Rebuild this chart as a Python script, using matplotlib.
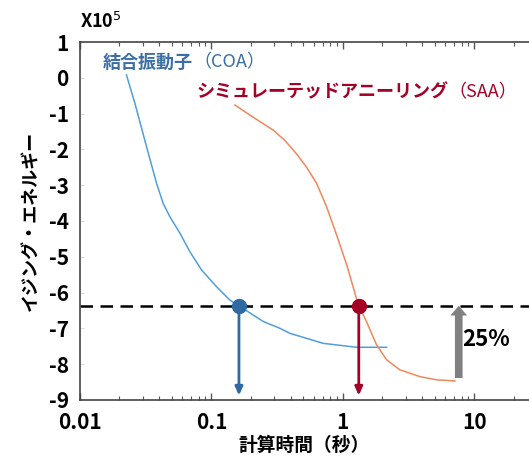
import matplotlib
matplotlib.use("Agg")
import matplotlib.pyplot as plt
import numpy as np

plt.rcParams['font.family'] = ['Noto Sans CJK JP', 'DejaVu Sans']

# Data (energy in units of 1e5, time in seconds)
coa_time = [0.0226, 0.0262, 0.0321, 0.0383, 0.0430, 0.0483, 0.0576, 0.0686, 0.0842,
            0.1096, 0.138, 0.162, 0.208, 0.248, 0.332, 0.395, 0.708, 1.27, 2.15]
coa_energy = [0.08, -0.71, -1.92, -2.95, -3.51, -3.88, -4.34, -4.86, -5.37,
              -5.84, -6.21, -6.37, -6.63, -6.81, -7.00, -7.14, -7.42, -7.53, -7.53]
saa_time = [0.151, 0.196, 0.295, 0.362, 0.445, 0.530, 0.631, 0.751, 0.895,
            1.07, 1.31, 1.51, 1.80, 2.15, 2.71, 3.85, 5.16, 7.11]
saa_energy = [-0.76, -1.04, -1.46, -1.75, -2.13, -2.50, -2.95, -3.60, -4.39,
              -5.23, -6.35, -6.81, -7.46, -7.88, -8.16, -8.35, -8.44, -8.47]
target_energy = -6.37
coa_cross = 0.162
saa_cross = 1.32
gap_x = 7.6
gap_low = -8.39
xticks = [0.01, 0.1, 1, 10]
xtick_labels = ['0.01', '0.1', '1', '10']
yticks = [1, 0, -1, -2, -3, -4, -5, -6, -7, -8, -9]

fig = plt.figure(figsize=(5.29, 4.57), dpi=100)
ax = fig.add_axes([0.151, 0.125, 0.849, 0.783])
ax.set_xscale('log')
ax.set_xlim(0.01, 26)
ax.set_ylim(-9, 1)

c_blue_line = '#4f9fdc'
c_blue_dark = '#2f6aa3'
c_red_dark = '#a50026'
c_orange = '#f0875a'

ax.plot(coa_time, coa_energy, color=c_blue_line, lw=1.1, zorder=3)
ax.plot(saa_time, saa_energy, color=c_orange, lw=1.1, zorder=3)
ax.axhline(target_energy, color='black', lw=1.8, ls=(0, (5, 3)), zorder=2)

for xc, col in [(coa_cross, c_blue_dark), (saa_cross, c_red_dark)]:
    ax.annotate('', xy=(xc, -8.88), xytext=(xc, target_energy),
                arrowprops=dict(arrowstyle='-|>,head_length=0.5,head_width=0.22', color=col, lw=2.0,
                                shrinkA=0, shrinkB=0), zorder=4)
    ax.plot([xc], [target_energy], 'o', color=col, ms=10, zorder=5)

ax.annotate('', xy=(gap_x, target_energy), xytext=(gap_x, gap_low),
            arrowprops=dict(arrowstyle='simple,head_length=0.7,head_width=1.2,tail_width=0.55',
                            color='#808080', lw=0, shrinkA=0, shrinkB=0), zorder=4)
ax.text(gap_x * 1.06, -7.3, '25%', fontsize=16, fontweight='bold', ha='left', va='center')

# labels
t1 = ax.text(0.015, 0.44, '結合振動子', color='#3a6ea5', fontsize=13, fontweight='bold',
             ha='left', va='center')
ax.annotate('（COA）', xy=(1, 0.5), xycoords=t1, color='#3a6ea5', fontsize=13,
            ha='left', va='center')
t2 = ax.text(0.0776, -0.40, 'シミュレーテッドアニーリング', color=c_red_dark, fontsize=13,
             fontweight='bold', ha='left', va='center')
ax.annotate('（SAA）', xy=(1, 0.5), xycoords=t2, color=c_red_dark, fontsize=13,
            ha='left', va='center')

ax.set_xticks(xticks)
ax.set_xticklabels(xtick_labels)
ax.set_yticks(yticks)
ax.set_yticklabels([str(v) for v in yticks])
for lab in ax.get_xticklabels() + ax.get_yticklabels():
    lab.set_fontweight('bold')
    lab.set_fontsize(15)
ax.tick_params(axis='x', which='both', direction='in', top=True, bottom=True, color='#555555')
ax.tick_params(axis='x', which='major', length=5, width=1, pad=9)
ax.tick_params(axis='x', which='minor', length=3, width=0.8)
ax.tick_params(axis='y', which='major', direction='in', length=3, width=0.8, color='#dddddd', pad=8)

for s in ['left', 'bottom', 'top']:
    ax.spines[s].set_color('#444444')
    ax.spines[s].set_linewidth(1.2)
ax.spines['right'].set_visible(False)

ax.set_xlabel('計算時間（秒）', fontsize=13.5, fontweight='bold', labelpad=2)
ax.set_ylabel('イジング・エネルギー', fontsize=13, fontweight='bold', labelpad=6)

fig.text(80 / 529, 1 - 22 / 457, 'X10$^5$', fontsize=13, fontweight='bold', ha='left', va='center')

fig.savefig('out.png', dpi=100)
